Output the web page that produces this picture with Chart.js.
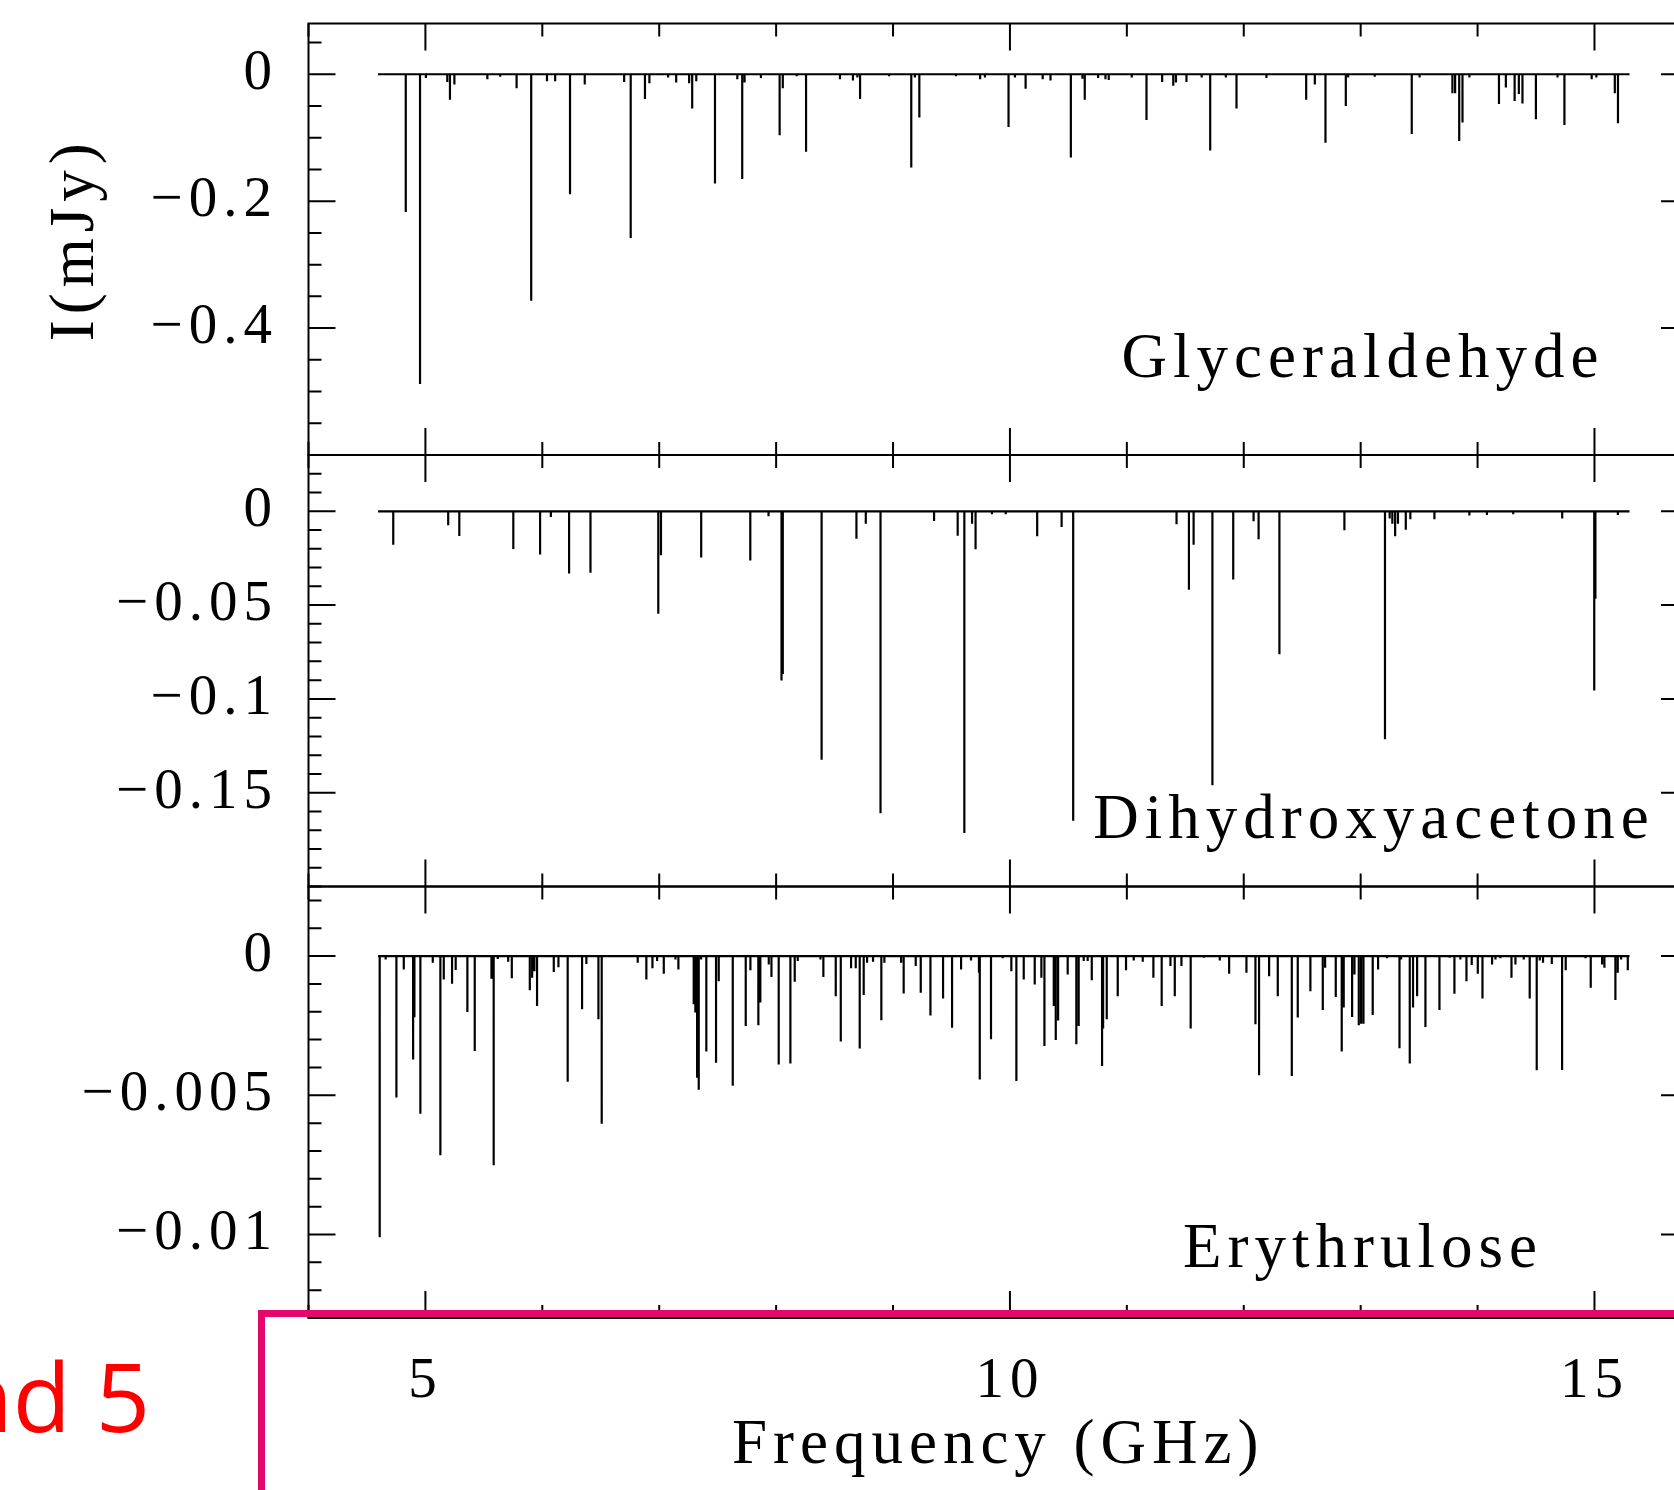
<!DOCTYPE html>
<html>
<head>
<meta charset="utf-8">
<title>Glyceraldehyde / Dihydroxyacetone / Erythrulose</title>
<script src="https://cdn.jsdelivr.net/npm/chart.js@4.4.1/dist/chart.umd.min.js"></script>
<style>
  html, body { margin:0; padding:0; background:#fff; width:1674px; height:1490px; overflow:hidden; }
  canvas { position:absolute; left:0; }
  #c1 { top:-40px; }
  #c2 { top:415px; }
  #c3 { top:846px; }
  .slide-text { position:absolute; right:1524px; top:1348px; color:#f00; font-family:'Open Sans', sans-serif; font-size:95px; line-height:95px; white-space:nowrap; z-index:5; }
  .slide-box { position:absolute; left:258px; top:1310px; width:1600px; height:400px; border-top:7px solid #e4086b; border-left:7px solid #e4086b; z-index:5; }
</style>
</head>
<body>
<canvas id="c1" width="1690" height="535"></canvas>
<canvas id="c2" width="1690" height="512"></canvas>
<canvas id="c3" width="1690" height="644"></canvas>
<div class="slide-box"></div>
<div class="slide-text">Band 5</div>
<script>
// shared frequency axis (GHz)
const xRange = [4, 15.8];
const xTickLabels = [5, 10, 15];
const bandEdges = [4.595, 15.30];

// Glyceraldehyde lines: frequency (GHz), intensity (mJy)
const glyFreq = [4.832, 4.954, 5.004, 5.187, 5.210, 5.248, 5.530, 5.640, 5.780, 5.905,
  6.040, 6.110, 6.237, 6.363, 6.700, 6.756, 6.878, 6.916, 7.076, 7.145,
  7.256, 7.282, 7.317, 7.477, 7.668, 7.710, 7.730, 7.870, 8.030, 8.057,
  8.176, 8.256, 8.546, 8.657, 8.695, 8.718, 8.966, 9.156, 9.187, 9.225,
  9.538, 9.745, 9.786, 9.988, 10.043, 10.134, 10.280, 10.347, 10.521, 10.620,
  10.640, 10.754, 10.817, 10.845, 11.042, 11.168, 11.302, 11.397, 11.420, 11.510,
  11.640, 11.713, 11.847, 11.938, 12.194, 12.534, 12.608, 12.699, 12.873, 12.893,
  13.120, 13.437, 13.504, 13.785, 13.808, 13.843, 13.871, 13.930, 14.183, 14.242,
  14.317, 14.353, 14.384, 14.499, 14.684, 14.743, 14.976, 15.016, 15.174, 15.201];
const glyInt = [-0.217, -0.488, -0.006, -0.012, -0.040, -0.016, -0.008, -0.004, -0.022, -0.357,
  -0.011, -0.011, -0.189, -0.016, -0.012, -0.258, -0.039, -0.014, -0.005, -0.013,
  -0.014, -0.054, -0.011, -0.172, -0.008, -0.165, -0.013, -0.006, -0.096, -0.022,
  -0.003, -0.122, -0.008, -0.010, -0.005, -0.039, -0.003, -0.147, -0.005, -0.068,
  -0.003, -0.008, -0.005, -0.083, -0.005, -0.023, -0.008, -0.010, -0.131, -0.007,
  -0.040, -0.006, -0.008, -0.009, -0.005, -0.072, -0.012, -0.018, -0.013, -0.012,
  -0.005, -0.120, -0.005, -0.054, -0.006, -0.040, -0.016, -0.108, -0.050, -0.005,
  -0.004, -0.094, -0.005, -0.030, -0.030, -0.105, -0.076, -0.005, -0.047, -0.021,
  -0.042, -0.031, -0.046, -0.071, -0.005, -0.080, -0.008, -0.005, -0.030, -0.077];

// Dihydroxyacetone lines
const dhaFreq = [4.725, 5.195, 5.290, 5.752, 5.981, 6.073, 6.229, 6.412, 6.992, 7.015,
  7.359, 7.779, 7.935, 8.046, 8.057, 8.389, 8.687, 8.767, 8.893, 9.351,
  9.553, 9.610, 9.676, 9.706, 9.846, 9.964, 10.233, 10.442, 10.541, 11.425,
  11.531, 11.571, 11.732, 11.910, 12.084, 12.127, 12.305, 12.861, 13.208, 13.248,
  13.271, 13.295, 13.319, 13.386, 13.425, 13.631, 13.930, 14.080, 14.305, 14.724,
  14.998, 15.008, 15.200];
const dhaInt = [-0.0178, -0.0075, -0.0132, -0.0201, -0.0231, -0.0030, -0.0331, -0.0327, -0.0546, -0.0235,
  -0.0246, -0.0263, -0.0027, -0.0902, -0.0867, -0.1324, -0.0146, -0.0066, -0.1610, -0.0052,
  -0.0130, -0.1715, -0.0066, -0.0203, -0.0016, -0.0016, -0.0133, -0.0084, -0.1650, -0.0069,
  -0.0418, -0.0178, -0.1460, -0.0363, -0.0053, -0.0149, -0.0762, -0.0101, -0.1215, -0.0039,
  -0.0066, -0.0133, -0.0066, -0.0098, -0.0043, -0.0043, -0.0023, -0.0020, -0.0016, -0.0039,
  -0.0955, -0.0466, -0.0020];

// Erythrulose lines
const eryFreq = [4.609, 4.660, 4.752, 4.815, 4.895, 4.906, 4.957, 5.063, 5.128, 5.157,
  5.228, 5.259, 5.359, 5.422, 5.565, 5.584, 5.619, 5.708, 5.739, 5.893,
  5.913, 5.932, 5.955, 6.098, 6.138, 6.217, 6.340, 6.377, 6.480, 6.508,
  6.816, 6.890, 6.942, 6.982, 7.039, 7.139, 7.164, 7.295, 7.309, 7.324,
  7.338, 7.358, 7.403, 7.486, 7.509, 7.629, 7.740, 7.780, 7.848, 7.865,
  7.937, 7.960, 8.022, 8.122, 8.159, 8.185, 8.379, 8.404, 8.510, 8.553,
  8.641, 8.681, 8.715, 8.749, 8.778, 8.829, 8.900, 8.926, 9.069, 9.091,
  9.194, 9.237, 9.320, 9.428, 9.505, 9.582, 9.667, 9.735, 9.742, 9.838,
  9.938, 10.012, 10.055, 10.118, 10.212, 10.269, 10.295, 10.375, 10.392, 10.412,
  10.494, 10.568, 10.588, 10.631, 10.665, 10.700, 10.788, 10.797, 10.828, 10.922,
  10.993, 11.059, 11.136, 11.227, 11.298, 11.373, 11.410, 11.467, 11.546, 11.658,
  11.795, 11.875, 12.023, 12.100, 12.131, 12.217, 12.291, 12.411, 12.462, 12.570,
  12.676, 12.696, 12.787, 12.838, 12.855, 12.927, 12.947, 12.984, 13.004, 13.024,
  13.103, 13.149, 13.226, 13.332, 13.346, 13.420, 13.448, 13.483, 13.554, 13.674,
  13.762, 13.802, 13.853, 13.905, 13.950, 14.002, 14.042, 14.124, 14.153, 14.195,
  14.290, 14.324, 14.395, 14.446, 14.506, 14.532, 14.560, 14.635, 14.723, 14.754,
  14.923, 14.968, 15.065, 15.085, 15.179, 15.199, 15.228, 15.285];
const eryInt = [-0.01010, -0.00012, -0.00508, -0.00048, -0.00371, -0.00220, -0.00566, -0.00024, -0.00715, -0.00084,
  -0.00099, -0.00050, -0.00201, -0.00341, -0.00081, -0.00751, -0.00010, -0.00020, -0.00080, -0.00123,
  -0.00078, -0.00054, -0.00179, -0.00057, -0.00040, -0.00451, -0.00191, -0.00028, -0.00227, -0.00602,
  -0.00024, -0.00084, -0.00044, -0.00018, -0.00063, -0.00012, -0.00048, -0.00173, -0.00203, -0.00437,
  -0.00480, -0.00012, -0.00343, -0.00383, -0.00090, -0.00466, -0.00251, -0.00051, -0.00248, -0.00167,
  -0.00030, -0.00075, -0.00389, -0.00386, -0.00092, -0.00018, -0.00012, -0.00075, -0.00144, -0.00307,
  -0.00044, -0.00044, -0.00332, -0.00140, -0.00024, -0.00020, -0.00230, -0.00024, -0.00024, -0.00134,
  -0.00036, -0.00132, -0.00213, -0.00152, -0.00257, -0.00048, -0.00016, -0.00060, -0.00443, -0.00299,
  -0.00008, -0.00054, -0.00449, -0.00084, -0.00102, -0.00078, -0.00323, -0.00179, -0.00301, -0.00231,
  -0.00066, -0.00317, -0.00251, -0.00018, -0.00018, -0.00087, -0.00395, -0.00260, -0.00227, -0.00144,
  -0.00051, -0.00016, -0.00020, -0.00078, -0.00179, -0.00036, -0.00144, -0.00036, -0.00260, -0.00006,
  -0.00016, -0.00063, -0.00060, -0.00245, -0.00428, -0.00072, -0.00144, -0.00431, -0.00221, -0.00126,
  -0.00194, -0.00042, -0.00147, -0.00343, -0.00185, -0.00219, -0.00066, -0.00248, -0.00243, -0.00243,
  -0.00212, -0.00048, -0.00008, -0.00331, -0.00012, -0.00386, -0.00185, -0.00144, -0.00255, -0.00194,
  -0.00006, -0.00135, -0.00012, -0.00090, -0.00032, -0.00063, -0.00152, -0.00030, -0.00012, -0.00008,
  -0.00078, -0.00030, -0.00012, -0.00152, -0.00410, -0.00016, -0.00024, -0.00028, -0.00409, -0.00051,
  -0.00008, -0.00114, -0.00030, -0.00042, -0.00158, -0.00060, -0.00012, -0.00051];

// y axes: range, labelled ticks, minor tick step
const glyRange = [-0.6, 0.08];
const glyTicks = [0, -0.2, -0.4];
const glyMinor = 0.05;
const dhaRange = [-0.2, 0.03];
const dhaTicks = [0, -0.05, -0.1, -0.15];
const dhaMinor = 0.01;
const eryRange = [-0.013, 0.0025];
const eryTicks = [0, -0.005, -0.01];
const eryMinor = 0.001;

Chart.defaults.font.family = "'Liberation Serif', 'DejaVu Serif', serif";
Chart.defaults.color = '#000';

// baseline + one vertical stick per line
function sticks(freq, val) {
  const idx = freq.map((f, i) => i).sort((a, b) => freq[a] - freq[b]);
  const pts = [{x: bandEdges[0], y: 0}];
  idx.forEach(i => {
    pts.push({x: freq[i], y: 0}, {x: freq[i], y: val[i]}, {x: freq[i], y: 0});
  });
  pts.push({x: bandEdges[1], y: 0});
  return pts;
}

function fmt(v) {
  return v === 0 ? '0' : '\u2212' + Math.abs(v);
}

// box, inward ticks on all four sides and the molecule name
const frameTicks = {
  id: 'frameTicks',
  beforeDraw(chart) {
    chart.ctx.letterSpacing = '6px';
  },
  afterDraw(chart, args, o) {
    const {ctx, chartArea: a, scales: {x, y}} = chart;
    ctx.save();
    ctx.strokeStyle = '#000';
    ctx.lineWidth = 2;
    ctx.strokeRect(a.left, a.top, a.right - a.left, a.bottom - a.top);
    ctx.beginPath();
    for (let v = Math.ceil(x.min); v <= x.max; v++) {
      const px = x.getPixelForValue(v);
      const len = xTickLabels.includes(v) ? 27 : 13;
      ctx.moveTo(px, a.top); ctx.lineTo(px, a.top + len);
      ctx.moveTo(px, a.bottom); ctx.lineTo(px, a.bottom - len);
    }
    const k0 = Math.ceil(y.min / o.step - 1e-6), k1 = Math.floor(y.max / o.step + 1e-6);
    for (let k = k0; k <= k1; k++) {
      const v = k * o.step;
      const py = y.getPixelForValue(v);
      const len = o.major.some(m => Math.abs(m - v) < o.step / 10) ? 27 : 13;
      ctx.moveTo(a.left, py); ctx.lineTo(a.left + len, py);
      ctx.moveTo(a.right, py); ctx.lineTo(a.right - len, py);
    }
    ctx.stroke();
    ctx.fillStyle = '#000';
    ctx.font = "63px 'Liberation Serif', serif";
    ctx.letterSpacing = '6px';
    ctx.textAlign = 'center';
    ctx.textBaseline = 'alphabetic';
    ctx.fillText(o.label, o.labelX, a.top + o.labelDy);
    ctx.restore();
  }
};

function panel(id, p) {
  return new Chart(document.getElementById(id), {
    type: 'line',
    data: {
      datasets: [{
        data: sticks(p.freq, p.val),
        borderColor: '#000',
        borderWidth: 2.2,
        pointRadius: 0,
        tension: 0,
        fill: false
      }]
    },
    options: {
      responsive: false,
      animation: false,
      events: [],
      layout: { padding: p.pad },
      plugins: {
        legend: { display: false },
        tooltip: { enabled: false },
        frameTicks: { step: p.step, major: p.ticks, label: p.label, labelX: p.labelX, labelDy: p.labelDy }
      },
      scales: {
        x: {
          type: 'linear',
          min: xRange[0], max: xRange[1],
          display: p.showX,
          grid: { display: false, drawTicks: false },
          border: { display: false },
          afterBuildTicks: s => { s.ticks = xTickLabels.map(v => ({value: v})); },
          afterFit: s => {
            if (p.showX) s.height = 172;
            s.paddingLeft = 0; s.paddingRight = 0;
          },
          ticks: { font: { size: 57 }, padding: 30, maxRotation: 0, autoSkip: false },
          title: { display: true, text: 'Frequency (GHz)', font: { size: 63 }, padding: { top: 0, bottom: 5.5 } }
        },
        y: {
          type: 'linear',
          min: p.range[0], max: p.range[1],
          grid: { display: false, drawTicks: false },
          border: { display: false },
          afterBuildTicks: s => { s.ticks = p.ticks.map(v => ({value: v})); },
          afterFit: s => {
            s.width = 308.5;
            s.paddingTop = 0; s.paddingBottom = 0;
          },
          ticks: { font: { size: 57 }, padding: 30.5, callback: v => fmt(v) },
          title: { display: !!p.yTitle, text: 'I(mJy)', font: { size: 63 }, padding: { top: 39, bottom: 0 } }
        }
      }
    },
    plugins: [frameTicks]
  });
}

panel('c1', { freq: glyFreq, val: glyInt, range: glyRange, ticks: glyTicks, step: glyMinor,
  label: 'Glyceraldehyde', labelX: 1363, labelDy: 353, yTitle: true, showX: false,
  pad: { top: 63.5, bottom: 40, left: 0, right: 2 } });
panel('c2', { freq: dhaFreq, val: dhaInt, range: dhaRange, ticks: dhaTicks, step: dhaMinor,
  label: 'Dihydroxyacetone', labelX: 1374, labelDy: 383, showX: false,
  pad: { top: 40, bottom: 40.5, left: 0, right: 2 } });
panel('c3', { freq: eryFreq, val: eryInt, range: eryRange, ticks: eryTicks, step: eryMinor,
  label: 'Erythrulose', labelX: 1363, labelDy: 380, showX: true,
  pad: { top: 40.5, bottom: 0, left: 0, right: 2 } });
</script>
</body>
</html>
